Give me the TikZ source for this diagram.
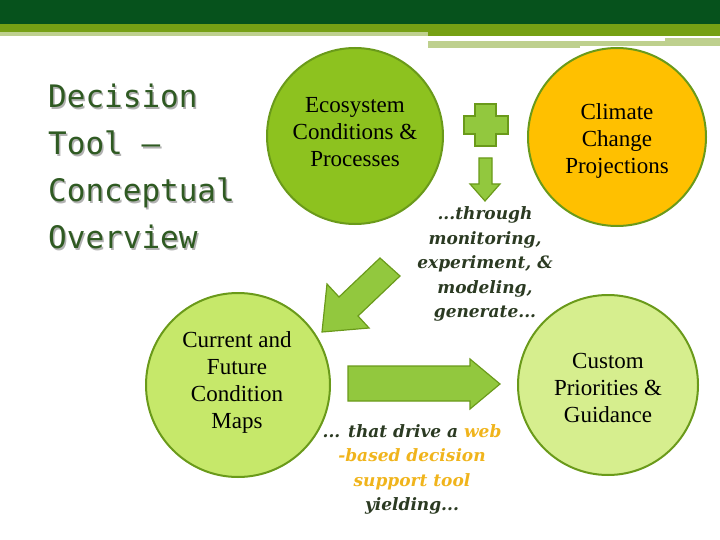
\documentclass[tikz,border=0pt]{standalone}
\usepackage{fontspec}
\setmainfont{DejaVu Serif}
\newfontfamily\titlefont{DejaVu Sans Mono}
\newfontfamily\bodyfont{Liberation Serif}
\definecolor{dkgreen}{HTML}{06521C}
\definecolor{olive}{HTML}{76A014}
\definecolor{palegr}{HTML}{BED08E}
\definecolor{cgreen}{HTML}{8DC21F}
\definecolor{cborder}{HTML}{6A9A1A}
\definecolor{lgreen}{HTML}{C6E86A}
\definecolor{lgreen2}{HTML}{D6EE8E}
\definecolor{yel}{HTML}{FFC000}
\definecolor{agreen}{HTML}{92C83E}
\definecolor{titlecol}{HTML}{2F5A22}
\definecolor{txt}{HTML}{2B3A22}
\definecolor{orng}{HTML}{F0B41C}
\begin{document}
\begin{tikzpicture}[x=1pt,y=-1pt,
  circ/.style={circle,draw=cborder,line width=2pt,inner sep=0pt},
  arr/.style={fill=agreen,draw=cborder,line width=1.2pt,line join=miter},
  btxt/.style={font=\bodyfont\fontsize{23}{27}\selectfont,text=black,align=center},
  itxt/.style={font=\bfseries\itshape\fontsize{17}{24.5}\selectfont,text=txt,align=center}]
\useasboundingbox (0,0) rectangle (720,540);
% header
\fill[dkgreen] (0,0) rectangle (720,24);
\fill[olive] (0,24) rectangle (720,32);
\fill[palegr] (0,32) rectangle (428,36);
\fill[olive] (428,32) rectangle (720,36);
\fill[palegr] (428,40) rectangle (580,48);
\fill[palegr] (580,38) rectangle (720,46);
\fill[white] (428,38) rectangle (665,41);
% title
\node[anchor=north west,align=left,font=\titlefont\fontsize{31}{47}\selectfont,text=gray!60,inner sep=0pt] at (49.5,85.5) {Decision\\Tool –\\Conceptual\\Overview};
\node[anchor=north west,align=left,font=\titlefont\fontsize{31}{47}\selectfont,text=titlecol,inner sep=0pt] (title) at (48,84) {Decision\\Tool –\\Conceptual\\Overview};
% circles
\node[circ,fill=cgreen,minimum size=176pt] (eco) at (355,136) {};
\node[btxt,anchor=north] (ecot) at (355,94) {Ecosystem\\Conditions \&\\Processes};
\node[circ,fill=yel,minimum size=178pt] (clim) at (617,137) {};
\node[btxt] (climt) at (617,141) {Climate\\Change\\Projections};
\node[circ,fill=lgreen,minimum size=184pt] (curr) at (238,385) {};
\node[btxt,anchor=north] (currt) at (237,328) {Current and\\Future\\Condition\\Maps};
\node[circ,fill=lgreen2,minimum size=180pt] (cust) at (608,385) {};
\node[btxt] (custt) at (608,388) {Custom\\Priorities \&\\Guidance};
% plus
\path[arr] (475,104) -- (496,104) -- (496,116) -- (508,116) -- (508,134) -- (496,134) -- (496,146) -- (475,146) -- (475,134) -- (464,134) -- (464,116) -- (475,116) -- cycle;
% down arrow
\path[arr] (479,158) -- (492,158) -- (492,184) -- (500,184) -- (485,201) -- (470,184) -- (479,184) -- cycle;
% diagonal arrow
\path[arr] (380,258) -- (400,276) -- (358,316) -- (369,328) -- (322,332) -- (327,284) -- (339,297) -- cycle;
% right arrow
\path[arr] (348,366) -- (470,366) -- (470,359) -- (500,384) -- (470,409) -- (470,401) -- (348,401) -- cycle;
% italic texts
\node[itxt] (mid) at (485,264) {...through\\monitoring,\\experiment, \&\\modeling,\\generate...};
\node[itxt,anchor=north] (bot) at (412,421) {... that drive a \textcolor{orng}{web}\\\textcolor{orng}{-based decision}\\\textcolor{orng}{support tool}\\yielding...};
\end{tikzpicture}
\end{document}
